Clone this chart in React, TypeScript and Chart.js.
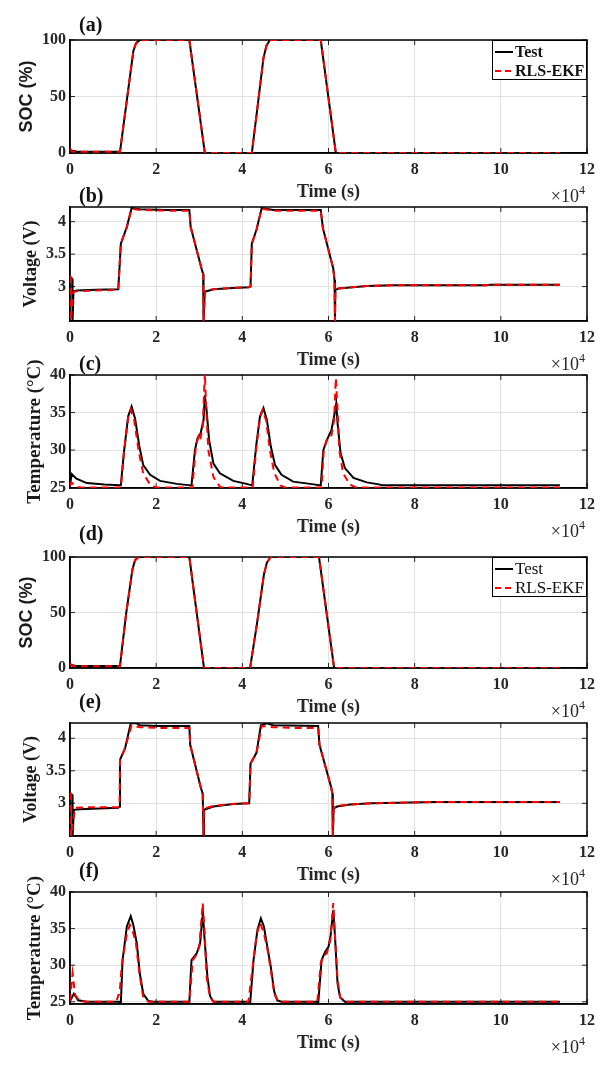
import { useEffect, useRef } from 'react'
import Chart from 'chart.js/auto'

// time is kept in units of 1e4 s (axis shows "×10^4")
const timeTicks = [0, 2, 4, 6, 8, 10, 12]
const socTicks = [0, 50, 100]
const voltTicks = [3, 3.5, 4]
const tempTicks = [25, 30, 35, 40]

// ---- (a) SOC ----
const socTimeA = [0, 0.05, 0.15, 0.6, 1.16, 1.32, 1.47, 1.53, 1.62, 2.2, 2.77, 3.13, 3.6, 4.22, 4.36, 4.49, 4.56, 4.64, 5.2, 5.82, 6.17, 8.0, 11.37]
const socTestA = [3.3, 2.0, 1.3, 1.2, 1.0, 47, 90, 97, 100, 100, 100, 0, 0, 0, 43, 84, 95, 100, 100, 100, 0, 0, 0]
const socEkfA = [3.8, 1.4, 1.1, 1.0, 1.0, 47, 90, 97, 100, 100, 100, 0, 0, 0, 43, 84, 95, 100, 100, 100, 0, 0, 0]

// ---- (b) Voltage ----
const voltTimeTestB = [0, 0.05, 0.06, 0.08, 0.15, 0.6, 1.12, 1.15, 1.18, 1.32, 1.43, 1.62, 2.24, 2.77, 2.8, 3.06, 3.09, 3.1, 3.13, 3.33, 3.79, 4.15, 4.19, 4.22, 4.33, 4.45, 4.72, 5.82, 5.87, 6.11, 6.14, 6.15, 6.16, 6.23, 6.89, 7.51, 9.67, 9.75, 11.37]
const voltTestB = [3.15, 3.12, 2.47, 2.92, 2.94, 2.95, 2.96, 3.3, 3.66, 3.92, 4.21, 4.19, 4.18, 4.18, 3.92, 3.26, 3.2, 2.47, 2.92, 2.96, 2.98, 2.99, 3.0, 3.66, 3.88, 4.21, 4.18, 4.18, 3.9, 3.28, 3.1, 2.47, 2.95, 2.97, 3.01, 3.02, 3.02, 3.03, 3.03]
const voltTimeEkfB = [0, 0.015, 0.02, 0.07, 0.15, 0.6, 1.12, 1.15, 1.18, 1.32, 1.43, 1.62, 2.24, 2.77, 2.8, 3.06, 3.09, 3.1, 3.13, 3.33, 3.79, 4.15, 4.19, 4.22, 4.33, 4.45, 4.72, 5.82, 5.87, 6.11, 6.14, 6.15, 6.16, 6.23, 6.89, 7.51, 9.67, 9.75, 11.37]
const voltEkfB = [3.16, 3.15, 2.47, 2.91, 2.93, 2.94, 2.95, 3.3, 3.66, 3.92, 4.2, 4.18, 4.17, 4.17, 3.92, 3.26, 3.2, 2.47, 2.93, 2.96, 2.98, 2.99, 3.0, 3.66, 3.88, 4.2, 4.17, 4.17, 3.9, 3.28, 3.1, 2.47, 2.94, 2.97, 3.01, 3.02, 3.02, 3.03, 3.03]

// ---- (c) Temperature ----
const tempTimeTestC = [0, 0.04, 0.15, 0.39, 0.8, 1.16, 1.18, 1.25, 1.35, 1.43, 1.51, 1.61, 1.7, 1.86, 2.09, 2.48, 2.8, 2.82, 2.9, 2.96, 3.03, 3.1, 3.13, 3.17, 3.23, 3.33, 3.48, 3.79, 4.1, 4.22, 4.23, 4.32, 4.41, 4.49, 4.57, 4.66, 4.76, 4.91, 5.18, 5.57, 5.82, 5.88, 5.96, 6.07, 6.13, 6.18, 6.21, 6.28, 6.38, 6.58, 6.89, 7.2, 7.23, 11.37]
const tempTestC = [25.4, 26.8, 26.2, 25.6, 25.4, 25.3, 25.3, 29.6, 34.5, 35.8, 34.2, 30.5, 28.0, 26.7, 25.9, 25.5, 25.3, 25.3, 30.0, 31.6, 32.2, 34.0, 37.3, 35.3, 31.3, 28.2, 26.9, 25.9, 25.5, 25.3, 25.3, 30.5, 34.5, 35.6, 34.0, 30.5, 28.0, 26.7, 25.8, 25.5, 25.3, 30.0, 31.3, 32.7, 34.5, 36.2, 33.6, 29.6, 27.6, 26.3, 25.7, 25.4, 25.3, 25.3]
const tempTimeEkfC = [0, 0.03, 0.15, 0.3, 1.18, 1.25, 1.35, 1.41, 1.49, 1.59, 1.7, 1.86, 2.01, 2.84, 2.92, 2.98, 3.02, 3.08, 3.13, 3.16, 3.21, 3.33, 3.48, 3.6, 4.24, 4.32, 4.41, 4.47, 4.55, 4.64, 4.74, 4.88, 5.0, 5.84, 5.89, 5.97, 6.07, 6.13, 6.17, 6.21, 6.25, 6.34, 6.5, 6.65, 11.37]
const tempEkfC = [25.2, 25.7, 25.1, 25.0, 25.0, 29.6, 34.3, 35.4, 34.0, 30.0, 26.9, 25.4, 25.0, 25.0, 30.5, 31.8, 31.3, 33.1, 40.3, 35.7, 30.0, 26.4, 25.1, 25.0, 25.0, 30.0, 34.3, 35.3, 34.0, 30.0, 27.0, 25.3, 25.0, 25.0, 30.0, 31.6, 32.0, 34.0, 39.6, 35.4, 30.0, 26.9, 25.4, 25.0, 25.0]

// ---- (d) SOC ----
const socTimeD = [0, 0.05, 0.15, 0.6, 1.16, 1.3, 1.45, 1.51, 1.59, 2.2, 2.77, 3.11, 3.6, 4.18, 4.34, 4.5, 4.57, 4.66, 5.2, 5.78, 6.13, 8.0, 11.37]
const socTestD = [3.6, 2.4, 1.9, 1.8, 1.8, 48, 89, 97, 100, 100, 100, 0, 0, 0, 40, 84, 95, 100, 100, 100, 0, 0, 0]
const socEkfD = [4.0, 1.8, 1.6, 1.6, 1.6, 48, 89, 97, 100, 100, 100, 0, 0, 0, 40, 84, 95, 100, 100, 100, 0, 0, 0]

// ---- (e) Voltage ----
const voltTimeTestE = [0, 0.05, 0.06, 0.09, 0.23, 1.12, 1.15, 1.16, 1.28, 1.41, 1.55, 1.62, 2.01, 2.77, 2.79, 3.04, 3.08, 3.1, 3.11, 3.33, 3.79, 4.16, 4.19, 4.33, 4.43, 4.57, 4.72, 5.76, 5.79, 6.06, 6.09, 6.1, 6.12, 6.2, 6.5, 7.0, 8.5, 11.37]
const voltTestE = [3.14, 3.13, 2.5, 2.9, 2.91, 2.93, 2.95, 3.67, 3.85, 4.23, 4.23, 4.2, 4.19, 4.19, 3.9, 3.23, 3.15, 2.5, 2.9, 2.95, 2.99, 3.0, 3.61, 3.78, 4.2, 4.23, 4.2, 4.19, 3.9, 3.25, 3.15, 2.5, 2.92, 2.95, 2.98, 3.0, 3.02, 3.02]
const voltTimeEkfE = [0, 0.015, 0.02, 0.12, 0.5, 1.12, 1.15, 1.16, 1.28, 1.43, 1.62, 2.01, 2.5, 2.77, 2.79, 3.04, 3.08, 3.1, 3.11, 3.33, 3.79, 4.16, 4.19, 4.33, 4.45, 4.72, 5.2, 5.76, 5.79, 6.06, 6.09, 6.1, 6.12, 6.2, 6.5, 7.0, 8.5, 11.37]
const voltEkfE = [3.15, 3.15, 2.5, 2.93, 2.94, 2.94, 2.95, 3.67, 3.85, 4.2, 4.17, 4.16, 4.16, 4.16, 3.9, 3.23, 3.15, 2.5, 2.92, 2.96, 2.99, 3.0, 3.61, 3.78, 4.19, 4.17, 4.16, 4.16, 3.9, 3.25, 3.15, 2.5, 2.93, 2.96, 2.98, 3.0, 3.02, 3.02]

// ---- (f) Temperature ----
const tempTimeTestF = [0, 0.09, 0.19, 0.39, 1.15, 1.18, 1.22, 1.32, 1.41, 1.47, 1.55, 1.62, 1.7, 1.82, 1.93, 2.77, 2.82, 2.94, 3.02, 3.07, 3.08, 3.13, 3.19, 3.25, 3.33, 4.16, 4.18, 4.26, 4.35, 4.43, 4.5, 4.58, 4.66, 4.74, 4.81, 4.91, 5.74, 5.76, 5.84, 5.92, 6.0, 6.05, 6.11, 6.15, 6.21, 6.27, 6.38, 11.37]
const tempTestF = [25.1, 26.1, 25.2, 25.0, 25.0, 24.7, 30.7, 35.3, 36.7, 35.5, 33.0, 28.9, 26.1, 25.1, 25.0, 25.0, 30.7, 31.6, 33.0, 36.4, 37.5, 33.0, 28.4, 25.8, 25.0, 25.0, 24.7, 30.7, 34.8, 36.4, 35.3, 32.5, 29.8, 26.4, 25.2, 25.0, 25.0, 24.7, 30.7, 31.8, 32.5, 34.1, 37.5, 34.0, 27.5, 25.6, 25.0, 25.0]
const tempTimeEkfF = [0, 0.06, 0.12, 0.23, 0.39, 1.08, 1.12, 1.15, 1.2, 1.32, 1.39, 1.45, 1.53, 1.61, 1.7, 1.82, 2.77, 2.85, 2.92, 3.0, 3.08, 3.13, 3.17, 3.25, 3.33, 4.14, 4.24, 4.33, 4.41, 4.49, 4.58, 4.66, 4.74, 4.84, 5.74, 5.82, 5.89, 5.96, 6.04, 6.11, 6.16, 6.21, 6.27, 6.42, 11.37]
const tempEkfF = [25.1, 28.9, 25.9, 25.1, 25.0, 25.0, 25.9, 26.0, 30.0, 34.3, 35.5, 34.8, 33.0, 28.9, 25.6, 25.0, 25.0, 30.7, 31.3, 32.5, 38.5, 34.0, 28.4, 25.6, 25.0, 25.0, 29.8, 34.1, 35.8, 34.6, 32.3, 29.4, 26.1, 25.0, 25.0, 30.3, 31.4, 31.6, 33.4, 38.5, 33.0, 28.0, 25.6, 25.0, 25.0]

const SERIF = '"Liberation Serif", "Times New Roman", serif'
const SANS = '"Liberation Sans", Arial, sans-serif'
const TEXT = '#262626'
const GRID = '#e2e2e2'
const PAD_TOP = 40
const X_AXIS_H = 52

interface PanelCfg {
  tag: string
  top: number
  bottom: number
  tagGap: number
  xTitle: string
  yTitle: string
  yFont: string
  yTitleX: number
  yMin: number
  yMax: number
  yTicks: number[]
  testT: number[]
  testV: number[]
  ekfT: number[]
  ekfV: number[]
  legend?: 'bold' | 'normal'
}

const panels: PanelCfg[] = [
  { tag: '(a)', top: 40, bottom: 153, tagGap: 14, xTitle: 'Time (s)', yTitle: 'SOC (%)', yFont: `bold 18px ${SANS}`, yTitleX: 27,
    yMin: 0, yMax: 100, yTicks: socTicks, testT: socTimeA, testV: socTestA, ekfT: socTimeA, ekfV: socEkfA, legend: 'bold' },
  { tag: '(b)', top: 207, bottom: 321, tagGap: 10, xTitle: 'Time (s)', yTitle: 'Voltage (V)', yFont: `bold 18px ${SERIF}`, yTitleX: 31,
    yMin: 2.47, yMax: 4.226, yTicks: voltTicks, testT: voltTimeTestB, testV: voltTestB, ekfT: voltTimeEkfB, ekfV: voltEkfB },
  { tag: '(c)', top: 375, bottom: 488, tagGap: 10, xTitle: 'Time (s)', yTitle: 'Temperature (°C)', yFont: `bold 19px ${SERIF}`, yTitleX: 35,
    yMin: 24.95, yMax: 40, yTicks: tempTicks, testT: tempTimeTestC, testV: tempTestC, ekfT: tempTimeEkfC, ekfV: tempEkfC },
  { tag: '(d)', top: 557, bottom: 668, tagGap: 22, xTitle: 'Time (s)', yTitle: 'SOC (%)', yFont: `bold 18px ${SANS}`, yTitleX: 27,
    yMin: 0, yMax: 100, yTicks: socTicks, testT: socTimeD, testV: socTestD, ekfT: socTimeD, ekfV: socEkfD, legend: 'normal' },
  { tag: '(e)', top: 723, bottom: 836, tagGap: 20, xTitle: 'Timc (s)', yTitle: 'Voltage (V)', yFont: `bold 18px ${SERIF}`, yTitleX: 31,
    yMin: 2.497, yMax: 4.235, yTicks: voltTicks, testT: voltTimeTestE, testV: voltTestE, ekfT: voltTimeEkfE, ekfV: voltEkfE },
  { tag: '(f)', top: 892, bottom: 1004, tagGap: 20, xTitle: 'Timc (s)', yTitle: 'Temperature (°C)', yFont: `bold 19px ${SERIF}`, yTitleX: 35,
    yMin: 24.7, yMax: 40, yTicks: tempTicks, testT: tempTimeTestF, testV: tempTestF, ekfT: tempTimeEkfF, ekfV: tempEkfF },
]

const toPoints = (t: number[], v: number[]) => t.map((x, i) => ({ x, y: v[i] }))

function Panel({ cfg }: { cfg: PanelCfg }) {
  const canvasRef = useRef<HTMLCanvasElement>(null)
  const chartRef = useRef<Chart | null>(null)
  const height = cfg.bottom - cfg.top + PAD_TOP + X_AXIS_H

  useEffect(() => {
    if (!canvasRef.current) return
    if (chartRef.current) chartRef.current.destroy()

    const decor = {
      id: 'decor',
      beforeDatasetsDraw(chart: any) {
        const { ctx, chartArea: a, scales } = chart
        ctx.save()
        ctx.strokeStyle = '#262626'
        ctx.lineWidth = 1
        const tl = 5
        ctx.beginPath()
        scales.x.ticks.forEach((t: any) => {
          const px = scales.x.getPixelForValue(t.value)
          ctx.moveTo(px, a.bottom); ctx.lineTo(px, a.bottom - tl)
          ctx.moveTo(px, a.top); ctx.lineTo(px, a.top + tl)
        })
        scales.y.ticks.forEach((t: any) => {
          const py = scales.y.getPixelForValue(t.value)
          ctx.moveTo(a.left, py); ctx.lineTo(a.left + tl, py)
          ctx.moveTo(a.right, py); ctx.lineTo(a.right - tl, py)
        })
        ctx.stroke()
        ctx.strokeStyle = '#000'
        ctx.lineWidth = 1.5
        ctx.strokeRect(a.left, a.top, a.right - a.left, a.bottom - a.top)
        ctx.restore()
      },
      afterDraw(chart: any) {
        const { ctx, chartArea: a } = chart
        ctx.save()
        ctx.fillStyle = '#111'
        // panel tag
        ctx.font = `bold 20px ${SERIF}`
        ctx.textAlign = 'left'
        ctx.textBaseline = 'middle'
        ctx.fillText(cfg.tag, 79, a.top - cfg.tagGap)
        // x title
        ctx.fillStyle = TEXT
        ctx.font = `bold 18px ${SERIF}`
        ctx.textAlign = 'center'
        ctx.fillText(cfg.xTitle, (a.left + a.right) / 2, a.bottom + 39)
        // x10^4 multiplier
        ctx.textAlign = 'right'
        ctx.textBaseline = 'alphabetic'
        ctx.font = `12px ${SERIF}`
        const supW = ctx.measureText('4').width
        ctx.fillText('4', a.right - 2, a.bottom + 41)
        ctx.font = `18px ${SERIF}`
        ctx.fillText('×10', a.right - 2 - supW, a.bottom + 49)
        // y title
        ctx.save()
        ctx.translate(cfg.yTitleX, (a.top + a.bottom) / 2)
        ctx.rotate(-Math.PI / 2)
        ctx.font = cfg.yFont
        ctx.fillStyle = '#1a1a1a'
        ctx.textAlign = 'center'
        ctx.textBaseline = 'middle'
        ctx.fillText(cfg.yTitle, 0, 0)
        ctx.restore()
        // legend
        if (cfg.legend) {
          const w = 95
          const h = 40
          const x0 = a.right - w
          const y0 = a.top
          ctx.fillStyle = '#fff'
          ctx.fillRect(x0, y0, w, h)
          ctx.strokeStyle = '#000'
          ctx.lineWidth = 1
          ctx.strokeRect(x0 + 0.5, y0 + 0.5, w - 1, h - 1)
          const rows = [
            { text: 'Test', color: '#000', dash: [] as number[] },
            { text: 'RLS-EKF', color: '#ff0000', dash: [6, 4] },
          ]
          rows.forEach((r, i) => {
            const yy = y0 + 12 + i * 19
            ctx.strokeStyle = r.color
            ctx.lineWidth = 2
            ctx.setLineDash(r.dash)
            ctx.beginPath()
            ctx.moveTo(x0 + 3, yy)
            ctx.lineTo(x0 + 21, yy)
            ctx.stroke()
            ctx.setLineDash([])
            ctx.fillStyle = '#111'
            ctx.font = cfg.legend === 'bold' ? `bold 16px ${SERIF}` : `17px ${SERIF}`
            ctx.textAlign = 'left'
            ctx.textBaseline = 'middle'
            ctx.fillText(r.text, x0 + 23, yy + 1)
          })
        }
        ctx.restore()
      },
    }

    chartRef.current = new Chart(canvasRef.current, {
      type: 'line',
      data: {
        datasets: [
          {
            label: 'Test',
            data: toPoints(cfg.testT, cfg.testV),
            borderColor: '#000',
            borderWidth: 2,
            pointRadius: 0,
            tension: 0,
            order: 1,
          },
          {
            label: 'RLS-EKF',
            data: toPoints(cfg.ekfT, cfg.ekfV),
            borderColor: '#ff0000',
            borderWidth: 2,
            borderDash: [7, 5],
            pointRadius: 0,
            tension: 0,
            order: 0,
          },
        ],
      },
      options: {
        responsive: true,
        maintainAspectRatio: false,
        animation: false,
        events: [],
        layout: { padding: { top: PAD_TOP, right: 25, left: 0, bottom: 0 } },
        plugins: { legend: { display: false }, tooltip: { enabled: false } },
        scales: {
          x: {
            type: 'linear',
            min: 0,
            max: 12,
            afterFit: (s: any) => { s.height = X_AXIS_H },
            afterBuildTicks: (s: any) => { s.ticks = timeTicks.map((value) => ({ value })) },
            grid: { color: GRID, drawTicks: false },
            border: { color: '#000', width: 1.5 },
            ticks: {
              padding: 7,
              color: TEXT,
              autoSkip: false,
              maxRotation: 0,
              font: { family: SERIF, size: 16, weight: 'bold' },
              callback: (v: any) => String(v),
            },
          },
          y: {
            type: 'linear',
            min: cfg.yMin,
            max: cfg.yMax,
            afterFit: (s: any) => { s.width = 70 },
            afterBuildTicks: (s: any) => { s.ticks = cfg.yTicks.map((value) => ({ value })) },
            grid: { color: GRID, drawTicks: false },
            border: { color: '#000', width: 1.5 },
            ticks: {
              padding: 4,
              color: TEXT,
              autoSkip: false,
              font: { family: SERIF, size: 16, weight: 'bold' },
              callback: (v: any) => String(v),
            },
          },
        },
      } as any,
      plugins: [decor],
    })

    return () => {
      if (chartRef.current) {
        chartRef.current.destroy()
        chartRef.current = null
      }
    }
  }, [cfg])

  return (
    <div style={{ position: 'absolute', left: 0, top: cfg.top - PAD_TOP, width: 612, height }}>
      <canvas ref={canvasRef} />
    </div>
  )
}

export default function App() {
  return (
    <div style={{ position: 'absolute', left: 0, top: 0, width: 612, height: 1072, background: '#fff' }}>
      {panels.map((p) => (
        <Panel key={p.tag} cfg={p} />
      ))}
    </div>
  )
}
